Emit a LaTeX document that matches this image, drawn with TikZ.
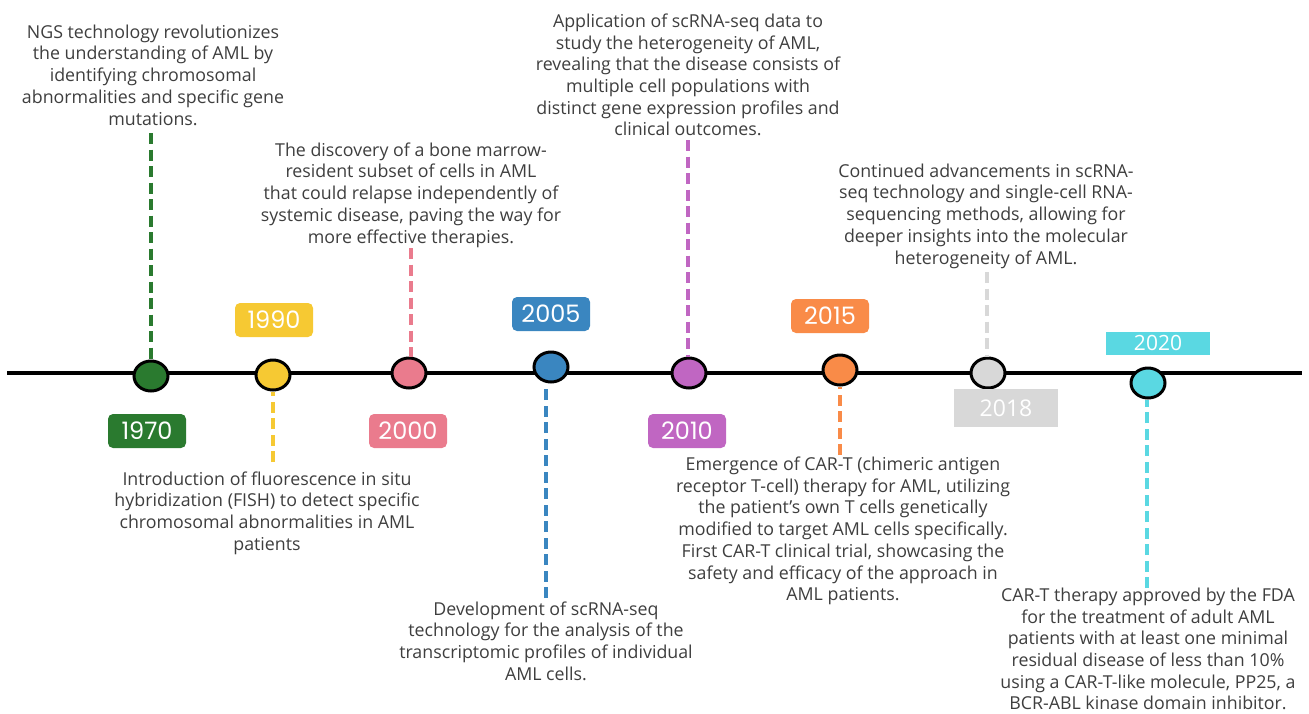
\documentclass[tikz,border=0pt]{standalone}
\usepackage{fontspec}
\setmainfont{Open Sans}
\newfontfamily\yearfont{Poppins}
\usetikzlibrary{shapes.geometric}

\definecolor{txtgray}{HTML}{3E3E3E}
\definecolor{cGreen}{HTML}{2A7A2F}
\definecolor{cYellow}{HTML}{F6C933}
\definecolor{cPink}{HTML}{EA7B8D}
\definecolor{cBlue}{HTML}{3A86C0}
\definecolor{cPurple}{HTML}{C066C2}
\definecolor{cOrange}{HTML}{F98B48}
\definecolor{cGrey}{HTML}{D8D8D8}
\definecolor{cCyan}{HTML}{5AD8E2}

\tikzset{
  desc/.style={align=center, text=txtgray, inner sep=0pt,
    font=\fontsize{17.8}{21.7}\selectfont},
  event/.style={ellipse, draw=black, line width=3pt, fill=#1,
    minimum width=34pt, minimum height=30pt, inner sep=0pt},
  yearbox/.style={fill=#1, rounded corners=5pt, text=white,
    minimum width=78pt, minimum height=34pt, inner sep=0pt,
    font=\yearfont\fontsize{24}{24}\selectfont},
  flatyear/.style={fill=#1, text=white, inner sep=0pt,
    font=\fontsize{23}{23}\selectfont},
  stem/.style={draw=#1, line width=3.8pt, dash pattern=on 11pt off 5.5pt},
  axis/.style={line width=4pt, draw=black}
}

\begin{document}
\begin{tikzpicture}[x=1pt, y=-1pt]
  \useasboundingbox (0,0) rectangle (1309,713);

  % main time axis
  \coordinate (ax-l) at (7,373);
  \coordinate (ax-r) at (1302,373);
  \draw[axis] (ax-l) -- (ax-r);

  % free ends of the dashed stems
  \coordinate (s1970) at (151,133);
  \coordinate (s1990) at (273,462);
  \coordinate (s2000) at (411,248);
  \coordinate (s2005) at (546,598);
  \coordinate (s2010) at (688,140);
  \coordinate (s2015) at (840,455);
  \coordinate (s2018) at (987,272);
  \coordinate (s2020) at (1147,588);

  % event dots
  \node[event=cGreen]  (d1970) at (151,376) {};
  \node[event=cYellow] (d1990) at (273,375) {};
  \node[event=cPink]   (d2000) at (409,373) {};
  \node[event=cBlue]   (d2005) at (551,367) {};
  \node[event=cPurple] (d2010) at (689,373) {};
  \node[event=cOrange] (d2015) at (840,370) {};
  \node[event=cGrey]   (d2018) at (988,373) {};
  \node[event=cCyan]   (d2020) at (1148,383) {};

  % dashed stems from each dot to its description
  \draw[stem=cGreen]  (s1970) -- (s1970 |- d1970.north);
  \draw[stem=cYellow] (s1990) -- (s1990 |- d1990.south);
  \draw[stem=cPink]   (s2000) -- (s2000 |- d2000.north);
  \draw[stem=cBlue]   (s2005) -- (s2005 |- d2005.south);
  \draw[stem=cPurple] (s2010) -- (s2010 |- d2010.north);
  \draw[stem=cOrange] (s2015) -- (s2015 |- d2015.south);
  \draw[stem=cGrey]   (s2018) -- (s2018 |- d2018.north);
  \draw[stem=cCyan]   (s2020) -- (s2020 |- d2020.south);

  % year labels
  \node[yearbox=cGreen]  (y1970) at (147,431) {1970};
  \node[yearbox=cYellow] (y1990) at (274,320) {1990};
  \node[yearbox=cPink]   (y2000) at (408,431) {2000};
  \node[yearbox=cBlue]   (y2005) at (551,314) {2005};
  \node[yearbox=cPurple] (y2010) at (687,431) {2010};
  \node[yearbox=cOrange] (y2015) at (830,316) {2015};
  \node[flatyear=cGrey, minimum width=104pt, minimum height=38pt] (y2018) at (1006,408) {2018};
  \node[flatyear=cCyan, minimum width=104pt, minimum height=23pt,
        font=\fontsize{21}{21}\selectfont] (y2020) at (1158,343) {2020};

  % event descriptions
  \node[desc] (t1970) at (153,75) {NGS technology revolutionizes\\the understanding of AML by\\identifying chromosomal\\abnormalities and specific gene\\mutations.};
  \node[desc] (t2000) at (411,195) {The discovery of a bone marrow-\\resident subset of cells in AML\\that could relapse independently of\\systemic disease, paving the way for\\more effective therapies.};
  \node[desc] (t2010) at (688,75) {Application of scRNA-seq data to\\study the heterogeneity of AML,\\revealing that the disease consists of\\multiple cell populations with\\distinct gene expression profiles and\\clinical outcomes.};
  \node[desc] (t2018) at (986,216) {Continued advancements in scRNA-\\seq technology and single-cell RNA-\\sequencing methods, allowing for\\deeper insights into the molecular\\heterogeneity of AML.};
  \node[desc] (t1990) at (267,513) {Introduction of fluorescence in situ\\hybridization (FISH) to detect specific\\chromosomal abnormalities in AML\\patients};
  \node[desc] (t2005) at (546,641) {Development of scRNA-seq\\technology for the analysis of the\\transcriptomic profiles of individual\\AML cells.};
  \node[desc] (t2015) at (843,531) {Emergence of CAR-T (chimeric antigen\\receptor T-cell) therapy for AML, utilizing\\the patient's own T cells genetically\\modified to target AML cells specifically.\\First CAR-T clinical trial, showcasing the\\safety and efficacy of the approach in\\AML patients.};
  \node[desc] (t2020) at (1148,649) {CAR-T therapy approved by the FDA\\for the treatment of adult AML\\patients with at least one minimal\\residual disease of less than 10\%\\using a CAR-T-like molecule, PP25, a\\BCR-ABL kinase domain inhibitor.};
\end{tikzpicture}
\end{document}
